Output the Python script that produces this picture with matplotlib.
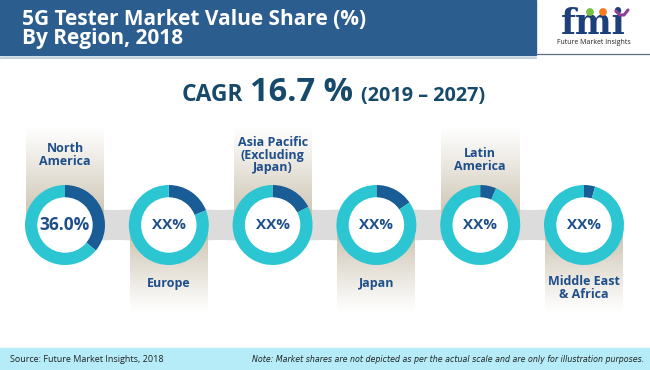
import numpy as np
import matplotlib.pyplot as plt
from matplotlib.patches import Rectangle, Circle, Polygon

plt.rcParams['font.family'] = ['Open Sans', 'DejaVu Sans']

# data
regions = ["North\nAmerica", "Europe", "Asia Pacific\n(Excluding\nJapan)", "Japan",
           "Latin\nAmerica", "Middle East\n& Africa"]
shares = [36.0, 19.0, 17.5, 15.5, 6.5, 4.5]  # dark segment size (illustrative)
center_labels = ["36.0%", "XX%", "XX%", "XX%", "XX%", "XX%"]
label_on_top = [True, False, True, False, True, False]
title = "5G Tester Market Value Share (%)\nBy Region, 2018"
cagr_value = "16.7 %"
cagr_period = "(2019 \u2013 2027)"
source = "Source: Future Market Insights, 2018"
note = ("Note: Market shares are not depicted as per the actual scale and are "
        "only for illustration purposes.")

W, H = 650, 370
DARK = "#1a5c96"
CYAN = "#2cc6d3"
TEXT_BLUE = "#1f4f8a"
TAN = np.array([196, 186, 164]) / 255

fig = plt.figure(figsize=(6.5, 3.7), dpi=100)
ax = fig.add_axes([0, 0, 1, 1])


def Y(yp):
    # pixel row (from top) -> data y
    return H - yp


# title bar
ax.add_patch(Rectangle((0, Y(55)), 536, 55, color="#2c5d8f", zorder=1))
ax.plot([0, 536], [Y(57.5), Y(57.5)], color="#b7c9dc", lw=1.2, zorder=1)
ax.plot([536, 650], [Y(54), Y(54)], color="#5a6f86", lw=0.9, zorder=1)
ax.text(22, Y(29), title, color="white", fontsize=15, fontweight="bold",
        va="center", ha="left", linespacing=0.92, zorder=2)

# logo
ax.text(593, Y(24), "fmi", color="#1d3f7a", fontsize=25, fontweight="bold",
        family="DejaVu Serif", ha="center", va="center", zorder=3)
ax.add_patch(Circle((590, Y(12)), 3.2, color="#7ac143", zorder=4))
ax.add_patch(Circle((603, Y(12)), 3.2, color="#f47b20", zorder=4))
ax.plot([616, 620, 624, 628], [Y(11), Y(15), Y(15), Y(10)], color="#8e3f96",
        lw=2.2, solid_capstyle="round", zorder=4)
ax.text(594, Y(43), "Future Market Insights", color="#222222", fontsize=5,
        ha="center", va="center", zorder=3)

# CAGR line
cagr_color = "#17496b"
ax.text(243, Y(101), "CAGR", color=cagr_color, fontsize=16.5, fontweight="bold",
        ha="right", va="baseline")
ax.text(250, Y(101), cagr_value, color=cagr_color, fontsize=23.5, fontweight="bold",
        ha="left", va="baseline")
ax.text(361, Y(101), cagr_period, color=cagr_color, fontsize=14.3, fontweight="bold",
        ha="left", va="baseline")

# donut layout
xs = np.linspace(65, 584, len(regions))
cy = Y(225)
r_out, r_in = 40, 27

# grey ribbon between donuts
for a, b in zip(xs[:-1], xs[1:]):
    t = np.linspace(0, 1, 40)
    xx = a + (b - a) * t
    top = Y(205) - 5 * np.sin(np.pi * t)
    bot = Y(245) + 5 * np.sin(np.pi * t)
    ax.add_patch(Polygon(np.r_[np.c_[xx, top], np.c_[xx[::-1], bot[::-1]]],
                         closed=True, color="#dcdcdc", lw=0, zorder=1))

# gradient bands behind labels (row 0 = bottom of the band)
for x, top in zip(xs, label_on_top):
    n = 100
    grad = np.zeros((n, 1, 4))
    grad[..., :3] = TAN
    ramp = np.linspace(0, 1, n) ** 1.1 * 0.95
    if top:
        grad[:, 0, 3] = ramp[::-1]  # strong near donut (bottom), fades upward
        y0, y1 = Y(225), Y(125)
    else:
        grad[:, 0, 3] = ramp        # strong near donut (top), fades downward
        y0, y1 = Y(313), Y(225)
    ax.imshow(grad, extent=[x - 39, x + 39, y0, y1], aspect="auto",
              origin="lower", zorder=1.5, interpolation="bilinear")

# donuts
for x, v, lab, reg, top in zip(xs, shares, center_labels, regions, label_on_top):
    ax.pie([v, 100 - v], colors=[DARK, CYAN], startangle=90, counterclock=False,
           radius=r_out, center=(x, cy), frame=True,
           wedgeprops=dict(width=r_out - r_in, edgecolor="none", zorder=3))
    ax.add_patch(Circle((x, cy), r_in, color="white", zorder=3.5))
    big = lab[0].isdigit()
    ax.text(x, cy, lab, color=TEXT_BLUE, fontweight="bold",
            fontsize=12.5 if big else 11, ha="center", va="center", zorder=4)
    ly = Y(155) if top else Y(284)
    if reg.startswith("Latin"):
        ly = Y(160)
    if reg.startswith("Middle"):
        ly = Y(288)
    ax.text(x, ly, reg, color=TEXT_BLUE, fontweight="bold", fontsize=9,
            ha="center", va="center", linespacing=1.0, zorder=4)

# footer
ax.add_patch(Rectangle((0, 0), W, 22, color="#b5ecf7", zorder=1))
ax.text(10, 11, source, fontsize=6.5, color="#222222", va="center", ha="left")
ax.text(644, 11, note, fontsize=6.3, color="#222222", va="center", ha="right",
        style="italic", family="DejaVu Sans", fontstretch="condensed")

ax.set_xlim(0, W)
ax.set_ylim(0, H)
ax.set_aspect("auto")
ax.axis("off")
fig.savefig("out.png", dpi=100, facecolor="white")
